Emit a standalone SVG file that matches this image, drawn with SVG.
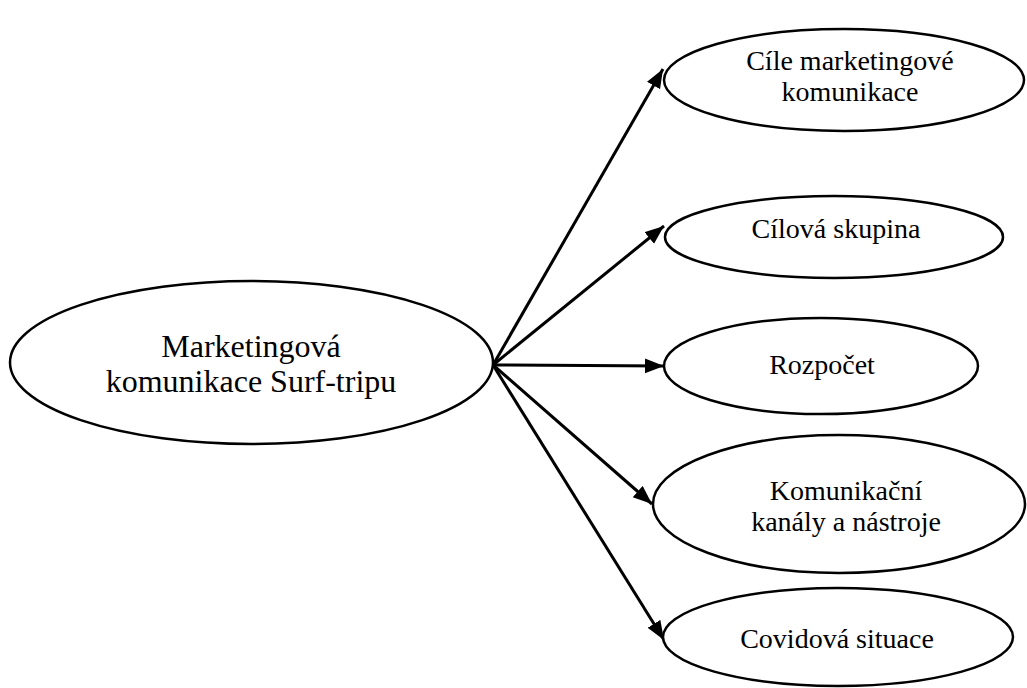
<svg xmlns="http://www.w3.org/2000/svg" width="1027" height="688" viewBox="0 0 1027 688">
<style>
.node ellipse{fill:#fff;stroke:#000;stroke-width:2.5}
.node text{font-family:"Liberation Serif","Times New Roman",serif;fill:#000;text-anchor:middle}
.big{font-size:32px}
.sm{font-size:28px}
.conn line{stroke:#000;stroke-width:3}
</style>
<defs>
<marker id="ah" markerUnits="userSpaceOnUse" markerWidth="22" markerHeight="18" refX="19" refY="7.5" orient="auto">
<path d="M0,0 L19,7.5 L0,15 Z" fill="#000"/>
</marker>
</defs>
<rect width="1027" height="688" fill="#fff"/>
<g id="connectors" class="conn">
<line x1="493" y1="365" x2="663" y2="69" marker-end="url(#ah)"/>
<line x1="493" y1="365" x2="664" y2="226" marker-end="url(#ah)"/>
<line x1="493" y1="365" x2="664" y2="366" marker-end="url(#ah)"/>
<line x1="493" y1="365" x2="652" y2="504" marker-end="url(#ah)"/>
<line x1="493" y1="365" x2="664" y2="640" marker-end="url(#ah)"/>
</g>
<g id="n0" class="node">
<ellipse cx="251.5" cy="362.5" rx="241.5" ry="81.5"/>
<text class="big" x="251" y="357">Marketingová</text>
<text class="big" x="251" y="392">komunikace Surf-tripu</text>
</g>
<g id="n1" class="node">
<ellipse cx="844" cy="80" rx="180" ry="51"/>
<text class="sm" x="850" y="70">Cíle marketingové</text>
<text class="sm" x="850" y="101">komunikace</text>
</g>
<g id="n2" class="node">
<ellipse cx="834" cy="237" rx="169" ry="41"/>
<text class="sm" x="836" y="238">Cílová skupina</text>
</g>
<g id="n3" class="node">
<ellipse cx="821" cy="366" rx="157" ry="48"/>
<text class="sm" x="822" y="374">Rozpočet</text>
</g>
<g id="n4" class="node">
<ellipse cx="839" cy="504" rx="186" ry="69"/>
<text class="sm" x="846" y="500">Komunikační</text>
<text class="sm" x="846" y="531">kanály a nástroje</text>
</g>
<g id="n5" class="node">
<ellipse cx="838" cy="637" rx="175" ry="49"/>
<text class="sm" x="837" y="648">Covidová situace</text>
</g>
</svg>
